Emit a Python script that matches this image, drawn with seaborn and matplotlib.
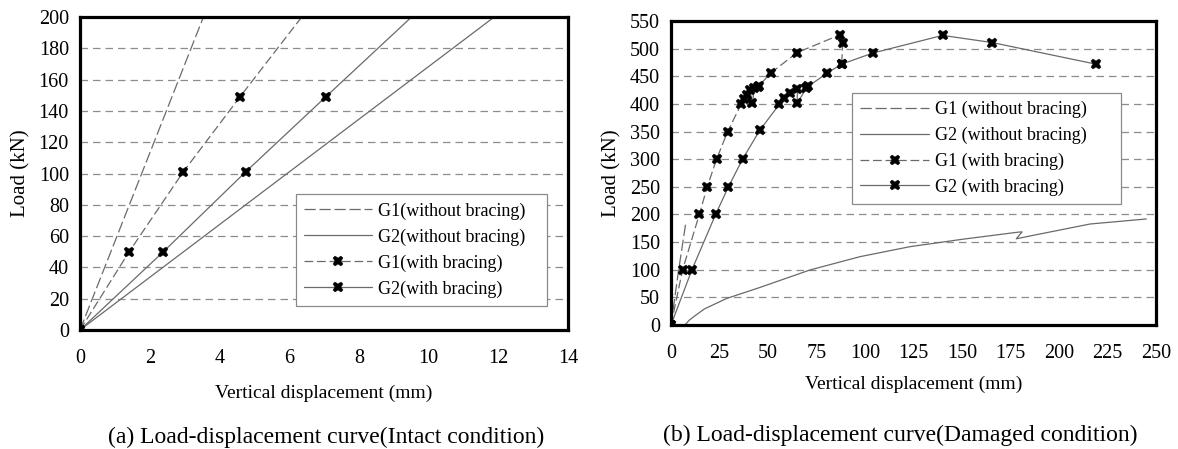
import matplotlib
matplotlib.use("Agg")
import matplotlib.pyplot as plt
import seaborn as sns
import numpy as np
import pandas as pd

# ---- data: (a) intact condition ----
a_g1_wo_x = [0, 3.54]
a_g1_wo_y = [0, 200]
a_g2_wo_x = [0, 11.88]
a_g2_wo_y = [0, 200]
a_g1_w_x = [0, 1.41, 2.96, 4.59, 6.36]
a_g1_w_y = [0, 50, 101, 149, 200]
a_g2_w_x = [0, 2.39, 4.75, 7.05, 9.51]
a_g2_w_y = [0, 50, 101, 149, 200]
a_marks = [0, 1, 2, 3]  # last point of braced lines carries no marker

# ---- data: (b) damaged condition ----
b_g1_wo_x = [0, 3.8, 7.6]
b_g1_wo_y = [0, 96, 184]
b_g2_wo_x = [7.2, 9.5, 12.5, 17.2, 28.7, 45.9, 71.6, 97.4, 123.2, 150, 179, 181, 178, 185, 216, 245]
b_g2_wo_y = [0, 9, 17, 29, 48, 68, 99.5, 123.6, 141.7, 155, 168, 168.5, 156, 161, 182.7, 191.8]
b_g1_w_x = [0, 6.0, 14.6, 18.7, 23.5, 29.2, 36.1, 37.6, 39.3, 40.7, 41.9, 43.0, 44.6, 45.5,
            51.4, 65.1, 87.1, 88.5, 88.0]
b_g1_w_y = [0, 100, 200, 250, 300, 350, 399, 408, 417, 425, 401, 428, 430, 433,
            456, 493, 525, 511, 472]
b_g2_w_x = [0, 10.8, 23.0, 29.6, 36.9, 45.7, 55.8, 58.4, 61.3, 65.1, 65.1, 69.6, 70.8,
            80.6, 88.0, 104.0, 140.0, 165.6, 219.0]
b_g2_w_y = [0, 100, 200, 250, 300, 352, 399, 410, 420, 427, 401, 428, 432,
            456, 472, 492, 524, 511, 472]

labels_a = ["G1(without bracing)", "G2(without bracing)", "G1(with bracing)", "G2(with bracing)"]
labels_b = ["G1 (without bracing)", "G2 (without bracing)", "G1 (with bracing)", "G2 (with bracing)"]

sns.set_theme(style="white")
plt.rcParams['font.family'] = ['Liberation Serif', 'DejaVu Serif']
for key in ('text.color', 'axes.labelcolor', 'xtick.labelcolor', 'ytick.labelcolor'):
    plt.rcParams[key] = 'black'

LINE = '#6a6a6a'
dash_long = (0, (9, 3))
dash_med = (0, (7, 3))

fig = plt.figure(figsize=(11.78, 4.49), dpi=100)
ax1 = fig.add_axes([0.0679, 0.265, 0.4143, 0.697])
ax2 = fig.add_axes([0.5696, 0.2762, 0.4117, 0.677])


def draw(ax, series, labels, markevery=None):
    styles = [dash_long, '-', dash_med, '-']
    for (x, y), lab, ls, mk in zip(series, labels, styles, [None, None, 'X', 'X']):
        kw = {}
        if mk:
            kw = dict(marker='X', markersize=7.5, markerfacecolor='black',
                      markeredgecolor='black', markeredgewidth=0.3,
                      markevery=markevery)
        sns.lineplot(x=x, y=y, ax=ax, sort=False, estimator=None, color=LINE,
                     linewidth=0.9, linestyle=ls, label=lab, **kw)


draw(ax1, [(a_g1_wo_x, a_g1_wo_y), (a_g2_wo_x, a_g2_wo_y),
           (a_g1_w_x, a_g1_w_y), (a_g2_w_x, a_g2_w_y)], labels_a, markevery=a_marks)
draw(ax2, [(b_g1_wo_x, b_g1_wo_y), (b_g2_wo_x, b_g2_wo_y),
           (b_g1_w_x, b_g1_w_y), (b_g2_w_x, b_g2_w_y)], labels_b)

for ax, xmax, xstep, ymax, ystep, lp in [(ax1, 14, 2, 200, 20, 12), (ax2, 250, 25, 550, 50, 9)]:
    ax.set_xlim(0, xmax)
    ax.set_ylim(0, ymax)
    ax.set_xticks(np.arange(0, xmax + 0.1, xstep))
    ax.set_yticks(np.arange(0, ymax + 0.1, ystep))
    ax.yaxis.grid(True, color='#8c8c8c', linestyle=(0, (6, 4)), linewidth=0.9)
    ax.xaxis.grid(False)
    ax.set_axisbelow(True)
    for s in ax.spines.values():
        s.set_color('black')
        s.set_linewidth(2.3)
    ax.tick_params(axis='x', direction='in', length=5, width=0.8, color='#555555',
                   pad=14, labelsize=14.5, labelcolor='black')
    ax.tick_params(axis='y', length=0, pad=8, labelsize=14.5, labelcolor='black')
    ax.set_xlabel('Vertical displacement (mm)', fontsize=14, labelpad=lp, color='black')
    ax.set_ylabel('Load (kN)', fontsize=15, labelpad=6, color='black')
    ax.set_facecolor('white')

leg_kw = dict(frameon=True, fancybox=False, edgecolor='#8a8a8a', framealpha=1,
              fontsize=13, handlelength=3.8, borderpad=0.45, labelspacing=0.48,
              handletextpad=0.3, borderaxespad=0, labelcolor='black')
leg1 = ax1.legend(loc='lower left', bbox_to_anchor=(0.442, 0.077, 0.514, 0.358),
                  mode='expand', **leg_kw)
leg2 = ax2.legend(loc='lower left', bbox_to_anchor=(0.374, 0.398, 0.554, 0.381),
                  mode='expand', **leg_kw)
for leg in (leg1, leg2):
    leg.get_frame().set_linewidth(0.9)

fig.text(0.277, 0.014, '(a) Load-displacement curve(Intact condition)', ha='center',
         fontsize=17, color='black')
fig.text(0.764, 0.018, '(b) Load-displacement curve(Damaged condition)', ha='center',
         fontsize=17, color='black')

fig.savefig('out.png', dpi=100, facecolor='white')
